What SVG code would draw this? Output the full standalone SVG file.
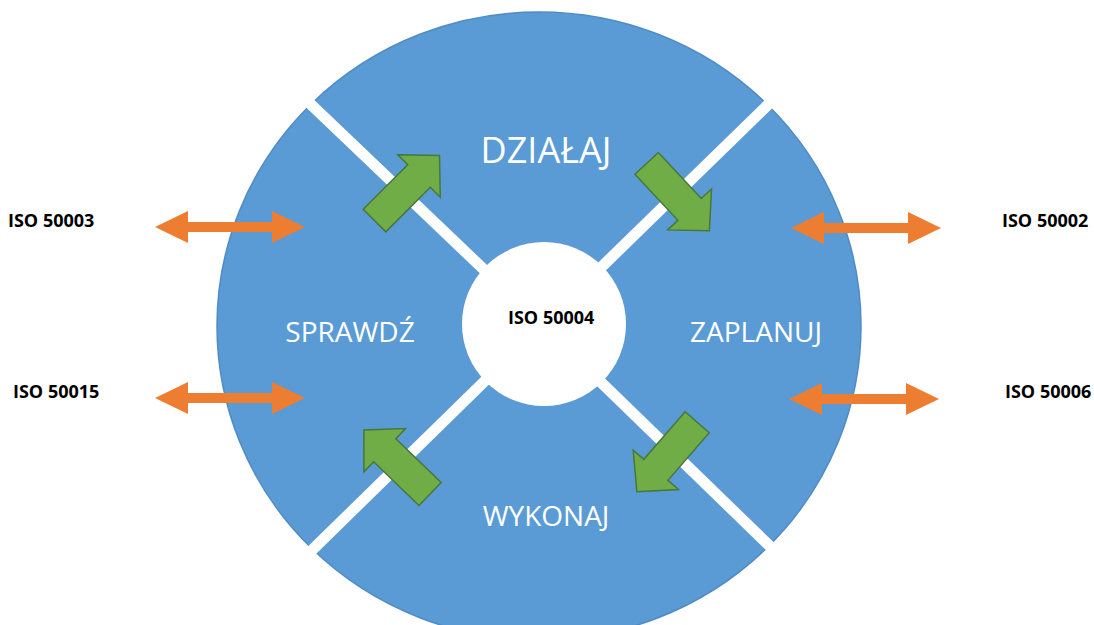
<svg xmlns="http://www.w3.org/2000/svg" xmlns:xlink="http://www.w3.org/1999/xlink" width="1094" height="625" viewBox="0 0 1094 625">
  <style>
    .iso { font-family: "Open Sans", "Liberation Sans", sans-serif; font-weight: bold; font-size: 18px; fill: #000; }
    .phase { font-family: "Open Sans", "Liberation Sans", sans-serif; fill: #fff; text-anchor: middle; }
    .divider { stroke: #fff; stroke-width: 11; }
    .garrow { fill: #70AD47; stroke: #47773A; stroke-width: 1.5; stroke-linejoin: miter; }
    .oarrow { fill: #ED7D31; }
  </style>
  <defs>
    <path id="greenArrow" d="M -46,-16 L 17,-16 L 17,-30 L 46,0 L 17,30 L 17,16 L -46,16 Z"/>
    <path id="orangeArrow" d="M 0,0 L 33,-16 L 33,-5 L 117,-5 L 117,-16 L 150,0 L 117,16 L 117,5 L 33,5 L 33,16 Z"/>
  </defs>
  <rect width="1094" height="625" fill="#fff"/>

  <g id="cycle">
    <ellipse cx="539" cy="326" rx="322" ry="314" fill="#5B9BD5" stroke="#4F8BC4" stroke-width="1.5"/>
    <line class="divider" x1="542" y1="325" x2="300" y2="94"/>
    <line class="divider" x1="542" y1="325" x2="781" y2="92"/>
    <line class="divider" x1="542" y1="325" x2="305" y2="557"/>
    <line class="divider" x1="542" y1="325" x2="781" y2="557"/>
  </g>

  <g id="node-center">
    <circle cx="544" cy="324" r="82" fill="#fff"/>
    <text class="iso" x="508" y="324">ISO 50004</text>
  </g>

  <g id="node-dzialaj">
    <text class="phase" x="546" y="163" font-size="36">DZIAŁAJ</text>
  </g>
  <g id="node-zaplanuj">
    <text class="phase" x="756" y="342" font-size="28">ZAPLANUJ</text>
  </g>
  <g id="node-wykonaj">
    <text class="phase" x="546" y="526" font-size="28">WYKONAJ</text>
  </g>
  <g id="node-sprawdz">
    <text class="phase" x="350" y="342" font-size="28">SPRAWDŹ</text>
  </g>

  <g id="node-iso50003"><text class="iso" x="8" y="227">ISO 50003</text></g>
  <g id="node-iso50015"><text class="iso" x="13" y="398">ISO 50015</text></g>
  <g id="node-iso50002"><text class="iso" x="1002" y="227">ISO 50002</text></g>
  <g id="node-iso50006"><text class="iso" x="1005" y="398">ISO 50006</text></g>

  <g id="connectors">
    <use xlink:href="#greenArrow" class="garrow" transform="translate(407,188) rotate(-45)"/>
    <use xlink:href="#greenArrow" class="garrow" transform="translate(678,197) rotate(47)"/>
    <use xlink:href="#greenArrow" class="garrow" transform="translate(667,457) rotate(131)"/>
    <use xlink:href="#greenArrow" class="garrow" transform="translate(397,462) rotate(-136)"/>
    <use xlink:href="#orangeArrow" class="oarrow" transform="translate(155,227)"/>
    <use xlink:href="#orangeArrow" class="oarrow" transform="translate(155,398)"/>
    <use xlink:href="#orangeArrow" class="oarrow" transform="translate(791,228)"/>
    <use xlink:href="#orangeArrow" class="oarrow" transform="translate(789,399)"/>
  </g>
</svg>
